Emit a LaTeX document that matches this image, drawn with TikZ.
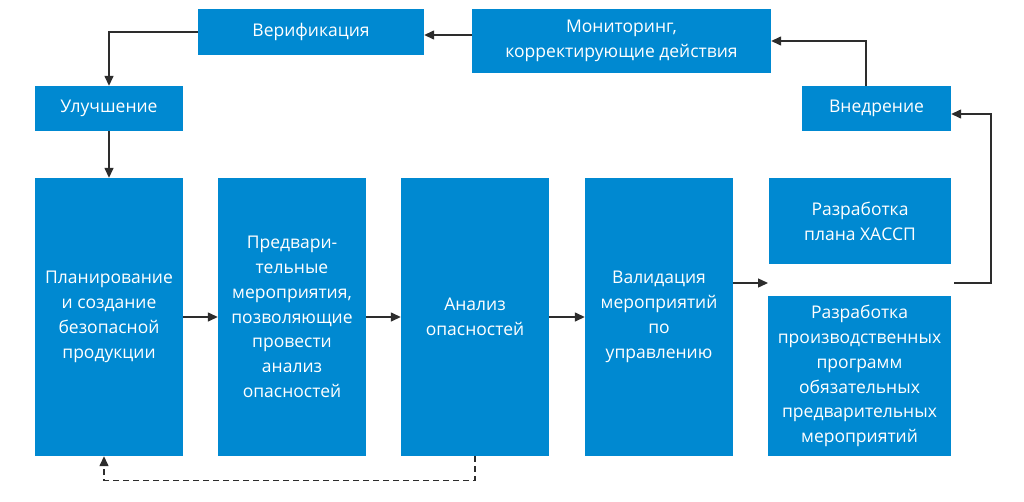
\documentclass[tikz,border=0pt]{standalone}
\usepackage{fontspec}
\setmainfont{Open Sans}
\usetikzlibrary{arrows.meta,positioning}
\definecolor{HaccpBlue}{RGB}{0, 137, 209}
\definecolor{FlowGrey}{RGB}{45, 45, 45}

\tikzset{
  blockbox/.style={fill=HaccpBlue, text=white, inner sep=0pt, align=center,
    font=\fontsize{17.5}{24.8}\selectfont},
  flow/.style={draw=FlowGrey, line width=1.4pt,
    -{Triangle[length=10pt,width=9pt]}},
}

\begin{document}
\begin{tikzpicture}[x=1pt, y=-1pt]
    \useasboundingbox[fill=white] (0,0) rectangle (1024,501);

    % Top row
    \node[blockbox, minimum width=226, minimum height=46] (verif) at (311,32) {Верификация};
    \node[blockbox, minimum width=299, minimum height=64] (monitor) at (621.5,41)
      {Мониторинг,\\корректирующие действия};
    \node[blockbox, minimum width=148, minimum height=45] (improve) at (109,108.5) {Улучшение};
    \node[blockbox, minimum width=149, minimum height=45] (intro) at (876.5,108.5) {Внедрение};

    % Main row
    \node[blockbox, minimum width=148, minimum height=278] (plan) at (109,317)
      {Планирование\\и создание\\безопасной\\продукции};
    \node[blockbox, minimum width=148, minimum height=278] (prelim) at (292,317)
      {Предвари-\\тельные\\мероприятия,\\позволяющие\\провести\\анализ\\опасностей};
    \node[blockbox, minimum width=148, minimum height=278] (hazard) at (475,317)
      {Анализ\\опасностей};
    \node[blockbox, minimum width=148, minimum height=278] (valid) at (659,317)
      {Валидация\\мероприятий\\по\\управлению};

    % Right pair
    \node[blockbox, minimum width=182, minimum height=86] (haccp) at (860,221)
      {Разработка\\плана ХАССП};
    \node[blockbox, minimum width=183, minimum height=160] (progs) at (859.5,376)
      {Разработка\\производственных\\программ\\обязательных\\предварительных\\мероприятий};
    \coordinate (gapin) at (768,283);
    \coordinate (gapout) at (954,283);

    % Connectors
    \draw[flow] (plan.east) -- (prelim.west);
    \draw[flow] (prelim.east) -- (hazard.west);
    \draw[flow] (hazard.east) -- (valid.west);
    \draw[flow] (valid.east |- gapin) -- (gapin);
    \draw[flow] (gapout) -- ++(37,0) |- ([yshift=-5.5pt]intro.east);
    \draw[flow] ([xshift=-10.5pt]intro.north) |- (monitor.east);
    \draw[flow] (monitor.west |- 0,35) -- (verif.east |- 0,35);
    \draw[flow] (verif.west) -| (improve.north);
    \draw[flow] (improve.south) -- (plan.north);
    \draw[flow, dashed, dash pattern=on 6pt off 4pt] (hazard.south) -- ++(0,24)
      -| ([xshift=-5pt]plan.south);
\end{tikzpicture}
\end{document}
